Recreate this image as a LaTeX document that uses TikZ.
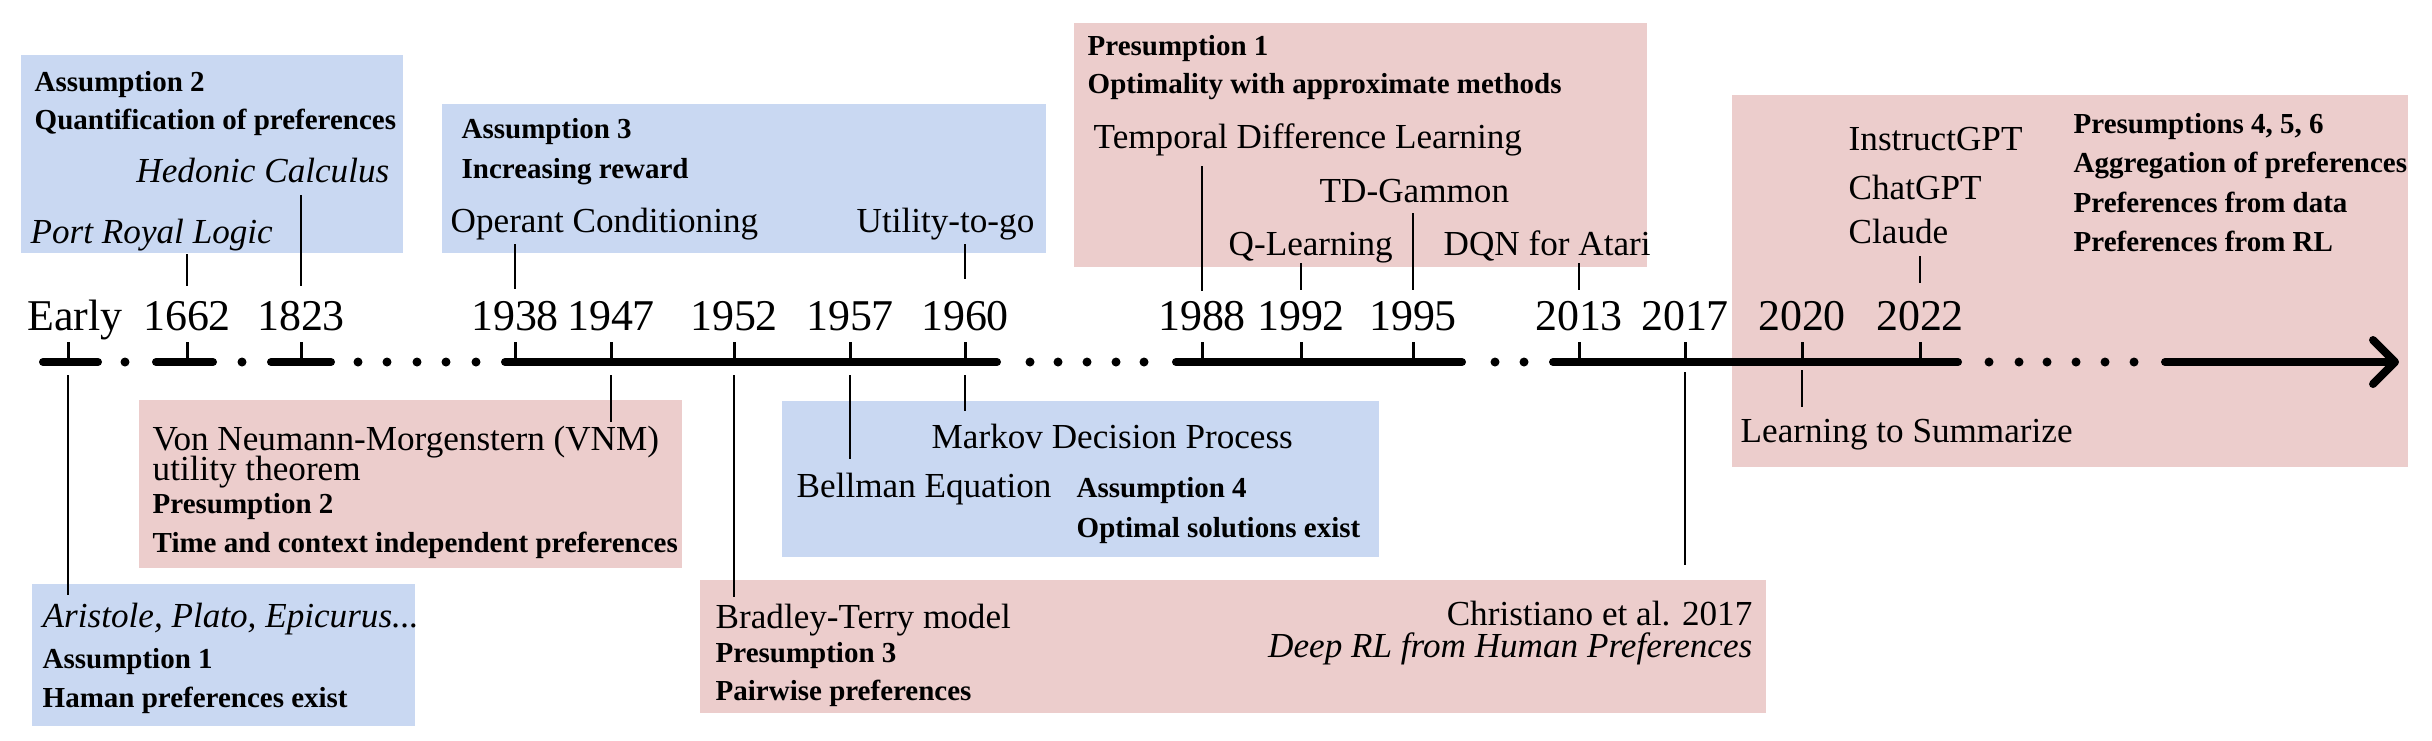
\documentclass[tikz,border=0pt]{standalone}
\usepackage{fontspec}
\setmainfont{Liberation Serif}
\usetikzlibrary{calc}
\definecolor{boxblue}{RGB}{201,216,242}
\definecolor{boxpink}{RGB}{236,205,204}
\begin{document}
\begin{tikzpicture}[x=0.1mm,y=-0.1mm,
  lab/.style={inner sep=0pt, anchor=base west, font=\fontsize{10}{12}\selectfont},
  labe/.style={lab, anchor=base east},
  labi/.style={lab, font=\fontsize{10}{12}\selectfont\itshape},
  labie/.style={labi, anchor=base east},
  labb/.style={inner sep=0pt, anchor=base west, font=\fontsize{8.25}{10}\selectfont\bfseries},
  yr/.style={inner sep=0pt, anchor=base, font=\fontsize{12.5}{15}\selectfont},
  bbox/.style={fill=boxblue, draw=none, inner sep=0pt, outer sep=0pt, anchor=north west},
  pbox/.style={fill=boxpink, draw=none, inner sep=0pt, outer sep=0pt, anchor=north west},
  axisline/.style={line width=0.8mm, line cap=round, line join=round},
  tickline/.style={line width=0.3mm},
  conn/.style={line width=0.2mm},
  dotmark/.style={fill, circle, inner sep=0pt, minimum size=0.9mm}
]
\useasboundingbox (0,0) rectangle (2432,740);

% ---------- background boxes ----------
\node[bbox, minimum width=38.2mm, minimum height=19.8mm] (boxA2) at (21,55) {};
\node[bbox, minimum width=60.4mm, minimum height=14.9mm] (boxA3) at (442,104) {};
\node[pbox, minimum width=57.3mm, minimum height=24.4mm] (boxP1) at (1074,23) {};
\node[pbox, minimum width=67.6mm, minimum height=37.2mm] (boxP456) at (1732,95) {};
\node[pbox, minimum width=54.3mm, minimum height=16.8mm] (boxP2) at (139,400) {};
\node[bbox, minimum width=38.3mm, minimum height=14.2mm] (boxA1) at (32,584) {};
\node[bbox, minimum width=59.7mm, minimum height=15.6mm] (boxA4) at (782,401) {};
\node[pbox, minimum width=106.6mm, minimum height=13.3mm] (boxP3) at (700,580) {};

% ---------- axis ----------
\draw[axisline] (43,362) -- (98,362);
\draw[axisline] (156,362) -- (213,362);
\draw[axisline] (271,362) -- (331,362);
\draw[axisline] (505,362) -- (997,362);
\draw[axisline] (1176,362) -- (1462,362);
\draw[axisline] (1553,362) -- (1958,362);
\draw[axisline] (2165,362) -- (2394,362);
\draw[axisline] (2373,340) -- (2395,362) -- (2373,384);
\foreach \d in {125,242,358,387,417,446,476,1030,1058,1087,1116,1144,1495,1524,1989,2019,2047,2076,2105,2134}
  \node[dotmark] at (\d,362) {};

% tick coordinates
\coordinate (tEarly) at (68,362);
\coordinate (t1662) at (187,362);
\coordinate (t1823) at (301,362);
\coordinate (t1938) at (515,362);
\coordinate (t1947) at (611,362);
\coordinate (t1952) at (734,362);
\coordinate (t1957) at (850,362);
\coordinate (t1960) at (965,362);
\coordinate (t1988) at (1202,362);
\coordinate (t1992) at (1301,362);
\coordinate (t1995) at (1413,362);
\coordinate (t2013) at (1579,362);
\coordinate (t2017) at (1685,362);
\coordinate (t2020) at (1802,362);
\coordinate (t2022) at (1920,362);
\foreach \t in {tEarly,t1662,t1823,t1938,t1947,t1952,t1957,t1960,t1988,t1992,t1995,t2013,t2017,t2020,t2022}
  \draw[tickline] (\t) -- ++(0,-20);

% ---------- year labels ----------
\node[yr] (yEarly) at (75,330) {Early};
\node[yr] (y1662) at (187,330) {1662};
\node[yr] (y1823) at (301,330) {1823};
\node[yr] (y1938) at (515,330) {1938};
\node[yr] (y1947) at (611,330) {1947};
\node[yr] (y1952) at (734,330) {1952};
\node[yr] (y1957) at (850,330) {1957};
\node[yr] (y1960) at (965,330) {1960};
\node[yr] (y1988) at (1202,330) {1988};
\node[yr] (y1992) at (1301,330) {1992};
\node[yr] (y1995) at (1413,330) {1995};
\node[yr] (y2013) at (1579,330) {2013};
\node[yr] (y2017) at (1685,330) {2017};
\node[yr] (y2020) at (1802,330) {2020};
\node[yr] (y2022) at (1920,330) {2022};

% ---------- texts: Assumption 2 box ----------
\node[labb] (a2t) at (34,91) {Assumption 2};
\node[labb] (a2s) at (34,129) {Quantification of preferences};
\node[labie] (hedonic) at (390,182) {Hedonic Calculus};
\node[labi] (portroyal) at (30,243) {Port Royal Logic};

% Assumption 3 box
\node[labb] (a3t) at (461,138) {Assumption 3};
\node[labb] (a3s) at (461,178) {Increasing reward};
\node[lab] (operant) at (450,232) {Operant Conditioning};
\node[labe] (utility) at (1035,232) {Utility-to-go};

% Presumption 1 box
\node[labb] (p1t) at (1087,55) {Presumption 1};
\node[labb] (p1s) at (1087,93) {Optimality with approximate methods};
\node[lab] (tdl) at (1093,148) {Temporal Difference Learning};
\node[lab] (tdg) at (1319,202) {TD-Gammon};
\node[lab] (qlearn) at (1228,255) {Q-Learning};
\node[lab] (dqn) at (1443,255) {DQN for Atari};

% Presumptions 4,5,6 box
\node[lab] (instruct) at (1848,150) {InstructGPT};
\node[lab] (chatgpt) at (1848,199) {ChatGPT};
\node[lab] (claude) at (1848,243) {Claude};
\node[labb] (p4t) at (2073,133) {Presumptions 4, 5, 6};
\node[labb] (p4a) at (2073,172) {Aggregation of preferences};
\node[labb] (p4b) at (2073,212) {Preferences from data};
\node[labb] (p4c) at (2073,251) {Preferences from RL};
\node[lab] (lts) at (1740,442) {Learning to Summarize};

% Presumption 2 box
\node[lab] (vnm) at (152,450) {Von Neumann-Morgenstern (VNM)};
\node[lab] (vnm2) at (152,480) {utility theorem};
\node[labb] (p2t) at (152,513) {Presumption 2};
\node[labb] (p2s) at (152,552) {Time and context independent preferences};

% Assumption 1 box
\node[labi] (aristole) at (42,627) {Aristole, Plato, Epicurus...};
\node[labb] (a1t) at (42,668) {Assumption 1};
\node[labb] (a1s) at (42,707) {Haman preferences exist};

% Assumption 4 box
\node[lab] (markov) at (931,448) {Markov Decision Process};
\node[lab] (bellman) at (796,497) {Bellman Equation};
\node[labb] (a4t) at (1076,497) {Assumption 4};
\node[labb] (a4s) at (1076,537) {Optimal solutions exist};

% Presumption 3 box
\node[lab] (bradley) at (715,628) {Bradley-Terry model};
\node[labb] (p3t) at (715,662) {Presumption 3};
\node[labb] (p3s) at (715,700) {Pairwise preferences};
\node[labe] (christiano) at (1753,625) {Christiano et al. 2017};
\node[labie] (deeprl) at (1753,657) {Deep RL from Human Preferences};

% ---------- connectors above the axis ----------
\draw[conn] ($(portroyal.base -| t1662)+(0,11)$) -- ($(y1662.base)+(0,-44)$);
\draw[conn] ($(hedonic.base -| t1823)+(0,13)$) -- ($(y1823.base)+(0,-44)$);
\draw[conn] ($(operant.base -| t1938)+(0,12)$) -- ($(y1938.base)+(0,-41)$);
\draw[conn] ($(utility.base -| t1960)+(0,12)$) -- ($(y1960.base)+(0,-51)$);
\draw[conn] ($(tdl.base -| t1988)+(0,18)$) -- ($(y1988.base)+(0,-39)$);
\draw[conn] ($(qlearn.base -| t1992)+(0,8)$) -- ($(y1992.base)+(0,-40)$);
\draw[conn] ($(tdg.base -| t1995)+(0,11)$) -- ($(y1995.base)+(0,-40)$);
\draw[conn] ($(dqn.base -| t2013)+(0,8)$) -- ($(y2013.base)+(0,-40)$);
\draw[conn] ($(claude.base -| t2022)+(0,13)$) -- ($(y2022.base)+(0,-47)$);

% ---------- connectors below the axis ----------
\draw[conn] ($(tEarly)+(0,13)$) -- ($(aristole.base -| tEarly)+(0,-32)$);
\draw[conn] ($(t1947)+(0,13)$) -- ($(vnm.base -| t1947)+(0,-28)$);
\draw[conn] ($(t1952)+(0,13)$) -- ($(bradley.base -| t1952)+(0,-31)$);
\draw[conn] ($(t1957)+(0,13)$) -- ($(bellman.base -| t1957)+(0,-38)$);
\draw[conn] ($(t1960)+(0,13)$) -- ($(markov.base -| t1960)+(0,-37)$);
\draw[conn] ($(t2017)+(0,10)$) -- ($(christiano.base -| t2017)+(0,-60)$);
\draw[conn] ($(t2020)+(0,8)$) -- ($(lts.base -| t2020)+(0,-35)$);
\end{tikzpicture}
\end{document}
